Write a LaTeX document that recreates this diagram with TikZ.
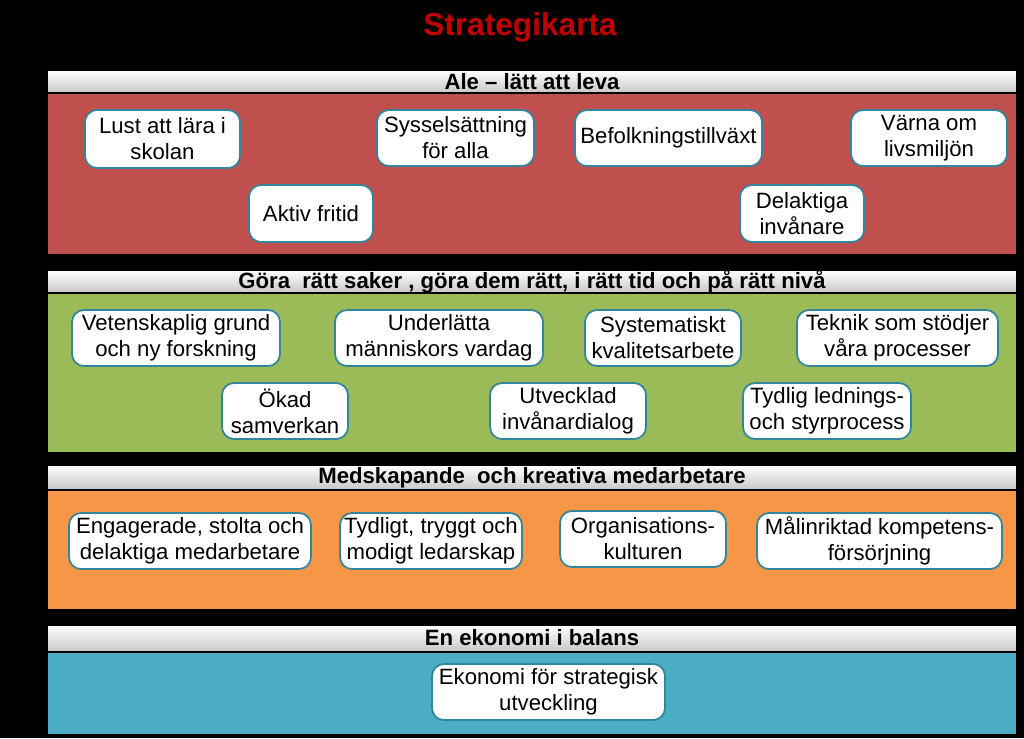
\documentclass[tikz,border=0pt]{standalone}
\usepackage{fontspec}
\setmainfont{Liberation Sans}
\usetikzlibrary{positioning}
\definecolor{kundred}{HTML}{C0504D}
\definecolor{procgreen}{HTML}{9BBB59}
\definecolor{medorange}{HTML}{F79646}
\definecolor{ekoblue}{HTML}{4BACC6}
\definecolor{boxline}{HTML}{31859C}
\definecolor{titlered}{HTML}{C00000}
\tikzset{
  goal/.style={draw=boxline, line width=0.5pt, fill=white, rounded corners=1.2mm, align=center,
    font=\fontsize{6.3}{7.4}\selectfont, inner sep=0pt},
  band/.style={draw=black, line width=0.4pt},
  bandhead/.style={draw=black, line width=0.4pt, top color=white, bottom color=black!22},
  headtext/.style={font=\bfseries\fontsize{6.3}{7.4}\selectfont}
}
\newcommand{\goalnode}[6]{\node[goal, minimum width={(#4-#2)*0.01cm}, minimum height={(#5-#3)*0.01cm}] (#1) at ({(#2+#4)/2},{(#3+#5)/2}) {#6};}
\begin{document}
\begin{tikzpicture}[x=0.01cm,y=-0.01cm]
\fill[black] (0,0) rectangle (1024,738);
\useasboundingbox (0,0) rectangle (1024,738);
\node[text=titlered, font=\bfseries\fontsize{9}{10}\selectfont] (title) at (520,27) {Strategikarta};
% bands
\draw[bandhead] (47,70) rectangle (1017,93);
\draw[band, fill=kundred] (47,93) rectangle (1017,255);
\node[headtext] (h1) at (532,82) {Ale -- lätt att leva};
\draw[bandhead] (47,270) rectangle (1017,293);
\draw[band, fill=procgreen] (47,293) rectangle (1017,453);
\node[headtext] (h2) at (532,282) {Göra\ \ rätt saker , göra dem rätt, i rätt tid och på rätt nivå};
\draw[bandhead] (47,465) rectangle (1017,490);
\draw[band, fill=medorange] (47,490) rectangle (1017,610);
\node[headtext] (h3) at (532,478) {Medskapande\ \ och kreativa medarbetare};
\draw[bandhead] (47,625) rectangle (1017,652);
\draw[band, fill=ekoblue] (47,652) rectangle (1017,735);
\node[headtext] (h4) at (532,638) {En ekonomi i balans};
% kund
\goalnode{lust}{85}{110}{240}{168}{Lust att lära i\\skolan}
\goalnode{syss}{377}{110}{534}{166}{Sysselsättning\\för alla}
\goalnode{befolk}{575}{110}{762}{166}{Befolkningstillväxt}
\goalnode{varna}{851}{110}{1007}{166}{Värna om\\livsmiljön}
\goalnode{aktiv}{249}{185}{373}{242}{Aktiv fritid}
\goalnode{delakt}{740}{185}{864}{242}{Delaktiga\\invånare}
% process
\goalnode{veten}{72}{310}{280}{366}{Vetenskaplig grund\\och ny forskning}
\goalnode{underl}{335}{310}{543}{366}{Underlätta\\människors vardag}
\goalnode{system}{585}{310}{741}{366}{Systematiskt\\kvalitetsarbete}
\goalnode{teknik}{797}{310}{998}{366}{Teknik som stödjer\\våra processer}
\goalnode{okad}{222}{383}{348}{439}{Ökad\\samverkan}
\goalnode{utveck}{490}{383}{646}{439}{Utvecklad\\invånardialog}
\goalnode{tydlig}{743}{383}{911}{439}{Tydlig lednings-\\och styrprocess}
% medarbetare
\goalnode{engag}{69}{513}{311}{569}{Engagerade, stolta och\\delaktiga medarbetare}
\goalnode{ledar}{340}{513}{522}{569}{Tydligt, tryggt och\\modigt ledarskap}
\goalnode{organ}{560}{511}{726}{567}{Organisations-\\kulturen}
\goalnode{kompet}{757}{513}{1002}{569}{Målinriktad kompetens-\\försörjning}
% ekonomi
\goalnode{ekonomi}{432}{664}{665}{720}{Ekonomi för strategisk\\utveckling}
\end{tikzpicture}
\end{document}
